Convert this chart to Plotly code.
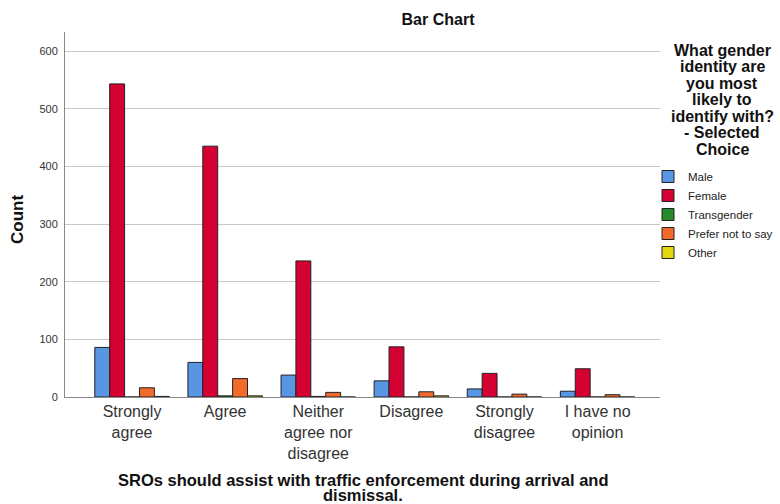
import plotly.graph_objects as go

categories = ["Strongly<br>agree", "Agree", "Neither<br>agree nor<br>disagree", "Disagree",
              "Strongly<br>disagree", "I have no<br>opinion"]
male = [86, 60, 38, 28, 14, 10]
female = [543, 435, 236, 87, 41, 49]
transgender = [0, 2, 1, 0, 0, 0]
prefer_not = [16, 32, 8, 9, 5, 4]
other = [1, 2, 0, 2, 0, 0]

legend_title_lines = ["What gender", "identity are", "you most", "likely to",
                      "identify with?", "- Selected", "Choice"]
x_title_lines = ["SROs should assist with traffic enforcement during arrival and", "dismissal."]
y_title = "Count"

series = [
    ("Male", male, "#5896e3"),
    ("Female", female, "#d50032"),
    ("Transgender", transgender, "#248a2a"),
    ("Prefer not to say", prefer_not, "#f26a2b"),
    ("Other", other, "#e3d70f"),
]

FONT = "Liberation Sans, Arial, sans-serif"
W, H = 780, 504
L, R, T, B = 65, 120, 32, 107
PW, PH = W - L - R, H - T - B


def px(xp):
    return (xp - L) / PW


def py(yp):
    return (H - B - yp) / PH


fig = go.Figure()
for name, vals, col in series:
    fig.add_trace(go.Bar(x=categories, y=vals, name=name,
                         marker=dict(color=col, line=dict(color="#222222", width=1))))

fig.update_layout(
    width=W, height=H,
    margin=dict(l=L, r=R, t=T, b=B, autoexpand=False),
    paper_bgcolor="white", plot_bgcolor="white",
    barmode="group", bargap=0.2, bargroupgap=0,
    font=dict(family=FONT, size=12, color="#222"),
    title=dict(text="<b>Bar Chart</b>", xref="container", x=438 / W, xanchor="center",
               yref="container", y=1 - 19 / H, yanchor="middle",
               font=dict(size=16, color="#111")),
    xaxis=dict(range=[-0.72, 5.67], showline=True, linecolor="#888", linewidth=1,
               showgrid=False, ticks="", tickfont=dict(size=16, color="#333"), automargin=False),
    yaxis=dict(range=[0, 633], showline=True, linecolor="#888", linewidth=1,
               showgrid=True, gridcolor="#c8c8c8", gridwidth=1, dtick=100,
               tickfont=dict(size=11, color="#333"), ticks="", zeroline=False,
               ticklabelstandoff=4, automargin=False),
    legend=dict(xref="container", yref="container", x=648 / W, xanchor="left",
                y=1 - 162 / H, yanchor="top", traceorder="normal",
                font=dict(size=11.5, color="#222"), itemwidth=30, tracegroupgap=0,
                bgcolor="rgba(0,0,0,0)"),
    showlegend=True,
)

# y-axis title
fig.add_annotation(text="<b>" + y_title + "</b>", xref="paper", yref="paper",
                   x=px(17), y=py(220), xanchor="center", yanchor="middle",
                   textangle=-90, showarrow=False, font=dict(size=17, color="#111"))

# x-axis title (two lines)
for i, line in enumerate(x_title_lines):
    fig.add_annotation(text="<b>" + line + "</b>", xref="paper", yref="paper",
                       x=px(363), y=py(480 + i * 15), xanchor="center", yanchor="middle",
                       showarrow=False, font=dict(size=16.5, color="#111"))

# legend title
for i, line in enumerate(legend_title_lines):
    fig.add_annotation(text="<b>" + line + "</b>", xref="paper", yref="paper",
                       x=px(722), y=py(50 + i * 16.5), xanchor="center", yanchor="middle",
                       showarrow=False, font=dict(size=16, color="#111"))

fig.write_html("out.html", config={"displayModeBar": False},
               post_script="document.body.style.margin='0px';")
